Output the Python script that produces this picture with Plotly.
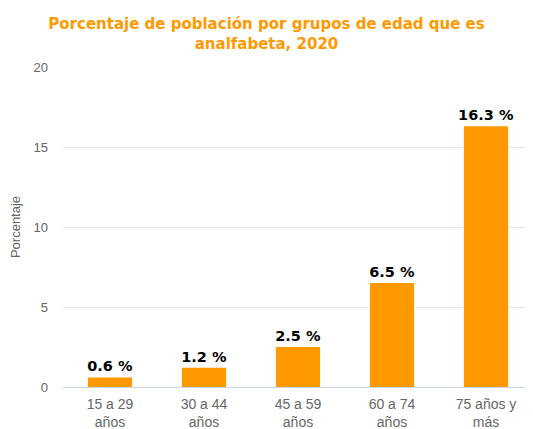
import plotly.graph_objects as go

categories = ["15 a 29<br>años", "30 a 44<br>años", "45 a 59<br>años", "60 a 74<br>años", "75 años y<br>más"]
values = [0.6, 1.2, 2.5, 6.5, 16.3]
labels = ["0.6 %", "1.2 %", "2.5 %", "6.5 %", "16.3 %"]
y_ticks = [0, 5, 10, 15, 20]

fig = go.Figure()
fig.add_trace(go.Bar(
    x=categories, y=values, text=labels, textposition="outside",
    textfont=dict(family="DejaVu Sans", size=14.5, color="#000000"),
    texttemplate="<b>%{text}</b>", constraintext="none",
    marker=dict(color="#FF9900", line=dict(width=0)),
    width=0.47, cliponaxis=False,
))
fig.update_layout(
    width=525, height=421,
    margin=dict(l=55, r=0, t=59, b=42),
    paper_bgcolor="white", plot_bgcolor="white",
    title=dict(text="<b>Porcentaje de población por grupos de edad que es<br>analfabeta, 2020</b>",
               x=0.4924, xanchor="center", y=0.95, yanchor="top",
               font=dict(family="DejaVu Sans", size=15, color="#FF9900")),
    showlegend=False,
)
fig.update_yaxes(range=[0, 20], tickvals=y_ticks, gridcolor="#e6e6e6", gridwidth=1,
                 zeroline=False, showline=False,
                 tickfont=dict(family="Arial", size=13, color="#666666"),
                 title=dict(text="Porcentaje", font=dict(family="Arial", size=13, color="#666666"), standoff=14),
                 ticks="", ticklabelstandoff=14)
fig.update_xaxes(showline=True, linecolor="#ccd6eb", linewidth=1, showgrid=False,
                 tickfont=dict(family="Arial", size=14, color="#666666"), ticks="",
                 ticklabelstandoff=4)
fig.write_html("out.html")
